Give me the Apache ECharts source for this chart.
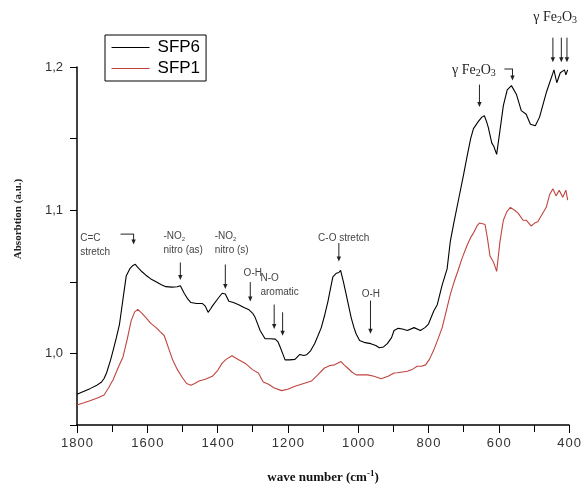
<!DOCTYPE html>
<html>
<head>
<meta charset="utf-8">
<script src="https://cdn.jsdelivr.net/npm/echarts@6/dist/echarts.min.js"></script>
<style>
  html, body { margin: 0; padding: 0; background: #fff; }
  #chart { width: 584px; height: 489px; }
</style>
</head>
<body>
<div id="chart"></div>
<script>
// SFP6 spectrum (wave number, absorbtion)
const sfp6Wave = [1800, 1780, 1763, 1745, 1730, 1723, 1716, 1705, 1697, 1688, 1679, 1668, 1660, 1650, 1641, 1634, 1627, 1615, 1604, 1590, 1575, 1560, 1547, 1530, 1515, 1506, 1495, 1485, 1476, 1460, 1443, 1435, 1427, 1420, 1415, 1400, 1387, 1378, 1368, 1355, 1340, 1325, 1312, 1300, 1293, 1279, 1265, 1250, 1236, 1228, 1222, 1215, 1208, 1195, 1180, 1166, 1155, 1147, 1135, 1124, 1115, 1105, 1095, 1086, 1079, 1072, 1062, 1055, 1050, 1042, 1034, 1027, 1020, 1012, 1006, 996, 980, 964, 950, 940, 928, 917, 905, 898, 886, 874, 860, 841, 823, 810, 800, 785, 775, 761, 747, 738, 728, 714, 700, 691, 680, 672, 658, 648, 641, 635, 630, 620, 614, 606, 597, 587, 576, 564, 550, 536, 522, 510, 496, 484, 465, 446, 443, 435, 425, 420, 413, 409, 404];
const sfp6Abs = [0.9715, 0.9735, 0.9754, 0.9775, 0.980, 0.9825, 0.9863, 0.995, 1.0023, 1.011, 1.0205, 1.040, 1.054, 1.059, 1.0614, 1.0622, 1.060, 1.057, 1.0546, 1.052, 1.050, 1.048, 1.0466, 1.0463, 1.0465, 1.0472, 1.042, 1.038, 1.0355, 1.0348, 1.0348, 1.033, 1.0287, 1.031, 1.033, 1.038, 1.042, 1.0415, 1.0364, 1.0355, 1.034, 1.032, 1.0307, 1.028, 1.025, 1.016, 1.0102, 1.0102, 1.010, 1.008, 1.0045, 1.000, 0.9955, 0.9955, 0.9958, 0.9993, 0.9985, 0.999, 1.002, 1.0068, 1.012, 1.018, 1.027, 1.0364, 1.045, 1.0535, 1.056, 1.0565, 1.058, 1.050, 1.041, 1.033, 1.025, 1.018, 1.0137, 1.009, 1.0075, 1.0068, 1.0055, 1.004, 1.0045, 1.0068, 1.011, 1.016, 1.0175, 1.017, 1.016, 1.018, 1.016, 1.018, 1.0205, 1.0296, 1.034, 1.0478, 1.059, 1.078, 1.091, 1.108, 1.125, 1.1365, 1.150, 1.157, 1.162, 1.165, 1.166, 1.162, 1.158, 1.147, 1.1445, 1.139, 1.155, 1.173, 1.184, 1.187, 1.181, 1.1695, 1.167, 1.160, 1.159, 1.165, 1.182, 1.1957, 1.198, 1.189, 1.196, 1.195, 1.198, 1.1945, 1.198];

// SFP1 spectrum
const sfp1Wave = [1800, 1780, 1763, 1740, 1723, 1710, 1697, 1683, 1669, 1657, 1646, 1636, 1627, 1615, 1604, 1590, 1575, 1563, 1552, 1540, 1528, 1515, 1500, 1488, 1476, 1465, 1453, 1435, 1415, 1400, 1387, 1375, 1359, 1350, 1340, 1321, 1300, 1284, 1270, 1255, 1240, 1218, 1200, 1180, 1155, 1133, 1115, 1096, 1080, 1067, 1049, 1040, 1030, 1018, 1006, 990, 973, 955, 935, 915, 898, 888, 874, 860, 845, 832, 820, 808, 797, 785, 773, 761, 750, 738, 727, 717, 705, 691, 680, 672, 662, 655, 646, 639, 632, 625, 615, 606, 597, 587, 577, 567, 555, 545, 531, 522, 508, 498, 489, 477, 465, 455, 446, 437, 428, 418, 409, 404];
const sfp1Abs = [0.964, 0.9655, 0.967, 0.969, 0.971, 0.976, 0.9818, 0.990, 0.9977, 1.010, 1.0227, 1.029, 1.0307, 1.028, 1.025, 1.021, 1.018, 1.015, 1.0125, 1.004, 0.9955, 0.989, 0.983, 0.979, 0.9777, 0.979, 0.9807, 0.982, 0.984, 0.988, 0.9932, 0.996, 0.9984, 0.997, 0.9955, 0.993, 0.9885, 0.9863, 0.980, 0.9784, 0.976, 0.974, 0.975, 0.977, 0.979, 0.9807, 0.985, 0.9898, 0.9915, 0.992, 0.9943, 0.992, 0.9898, 0.987, 0.985, 0.985, 0.985, 0.984, 0.9823, 0.984, 0.9863, 0.9865, 0.987, 0.9875, 0.989, 0.991, 0.991, 0.992, 0.996, 1.0023, 1.010, 1.018, 1.029, 1.041, 1.050, 1.057, 1.066, 1.075, 1.081, 1.084, 1.089, 1.091, 1.0905, 1.090, 1.080, 1.068, 1.0637, 1.0573, 1.0773, 1.093, 1.099, 1.102, 1.100, 1.098, 1.093, 1.093, 1.089, 1.091, 1.092, 1.097, 1.102, 1.111, 1.115, 1.110, 1.114, 1.109, 1.114, 1.107];

const seriesNames = ['SFP6', 'SFP1'];
const xTicks = [1800, 1600, 1400, 1200, 1000, 800, 600, 400];
const yTicks = [1.0, 1.1, 1.2];

// annotation texts: [label, wave number of top-left, absorbtion of top-left]
const noteLabels = [
  ['C=C\nstretch', 1791, 1.0855],
  ['-NO{sub|2}\nnitro (as)', 1554, 1.0870],
  ['-NO{sub|2}\nnitro (s)', 1408, 1.0870],
  ['O-H', 1326, 1.0608],
  ['N-O\naromatic', 1278, 1.0573],
  ['C-O stretch', 1114, 1.0855],
  ['O-H', 990, 1.0464]
];
const fe2o3Labels = [
  [733, 1.2030],
  [502, 1.2400]
];
// arrows: [wave, from, to]
const arrows = [
  [1639, 1.0833, 1.0760],
  [1506, 1.0635, 1.0512],
  [1378, 1.0621, 1.0450],
  [1307, 1.0498, 1.0362],
  [1239, 1.0341, 1.0171],
  [1215, 1.0287, 1.0123],
  [1055, 1.0771, 1.0642],
  [965, 1.0369, 1.0137],
  [655, 1.1877, 1.1720],
  [561, 1.1986, 1.1905],
  [446, 1.2205, 1.2034],
  [422, 1.2205, 1.2034],
  [406, 1.2205, 1.2034]
];
// bracket tops: [waveFrom, waveTo, absorbtion]
const brackets = [
  [1676, 1639, 1.0833],
  [584, 561, 1.1986]
];

const zip = (xs, ys) => xs.map((x, i) => [x, ys[i]]);
const sans = 'Arial, "Liberation Sans", sans-serif';
const serif = '"Liberation Serif", "Times New Roman", serif';

const chart = echarts.init(document.getElementById('chart'));
chart.setOption({
  animation: false,
  backgroundColor: '#fff',
  grid: { left: 77, right: 11, top: 67, bottom: 55 },
  legend: {
    data: seriesNames,
    orient: 'vertical',
    left: 105, top: 35,
    padding: [4, 6, 4, 6],
    borderColor: '#000', borderWidth: 1,
    itemWidth: 38, itemHeight: 14, itemGap: 4,
    itemStyle: { opacity: 0 },
    lineStyle: { width: 1.1 },
    textStyle: { fontFamily: sans, fontSize: 17, color: '#000', padding: [0, 0, 0, 3] }
  },
  xAxis: {
    type: 'value', inverse: true, min: 400, max: 1800, interval: 200,
    name: 'wave number (cm{sup|-1})',
    nameLocation: 'middle', nameGap: 44,
    nameTextStyle: {
      fontFamily: serif, fontWeight: 'bold', fontSize: 13, color: '#111',
      rich: { sup: { fontFamily: serif, fontWeight: 'bold', fontSize: 9, color: '#111', verticalAlign: 'top', padding: [0, 0, 8, 0] } }
    },
    axisLine: { lineStyle: { color: '#000', width: 1.5 } },
    axisTick: { inside: false, length: 8, lineStyle: { color: '#000' } },
    minorTick: { show: true, splitNumber: 2, length: 7, lineStyle: { color: '#000' } },
    axisLabel: {
      margin: 12, fontSize: 13, color: '#333', fontFamily: sans,
      formatter: v => xTicks.includes(v) ? String(v).split('').join('\u200A') : ''
    },
    splitLine: { show: false }
  },
  yAxis: {
    type: 'value', min: 0.95, max: 1.2, interval: 0.05,
    axisLine: { show: true, lineStyle: { color: '#000', width: 1.5 } },
    axisTick: { show: true, inside: false, length: 7, lineStyle: { color: '#000' } },
    axisLabel: {
      margin: 14, fontSize: 13, color: '#333', fontFamily: sans,
      formatter: v => {
        const t = yTicks.find(k => Math.abs(k - v) < 1e-6);
        return t === undefined ? '' : t.toFixed(1).replace('.', ',');
      }
    },
    splitLine: { show: false }
  },
  series: [
    {
      name: seriesNames[0], type: 'line', data: zip(sfp6Wave, sfp6Abs),
      symbol: 'none', clip: false, lineStyle: { color: '#000', width: 1.1 }, itemStyle: { color: '#000' }
    },
    {
      name: seriesNames[1], type: 'line', data: zip(sfp1Wave, sfp1Abs),
      symbol: 'none', clip: false, lineStyle: { color: '#c0443e', width: 1.1 }, itemStyle: { color: '#c0443e' }
    }
  ]
});

// annotations placed from data coordinates
const px = (w, a) => chart.convertToPixel({ gridIndex: 0 }, [w, a]);
const graphics = [{
  type: 'text', x: 18, y: 219, rotation: Math.PI / 2,
  style: {
    text: 'Absorbtion (a.u.)', textAlign: 'center', textVerticalAlign: 'middle',
    font: 'bold 11px ' + serif, fill: '#222'
  }
}];
const ink = '#222';
arrows.forEach(a => {
  const p0 = px(a[0], a[1]);
  const p1 = px(a[0], a[2]);
  graphics.push({ type: 'line', shape: { x1: p0[0], y1: p0[1], x2: p1[0], y2: p1[1] - 4 }, style: { stroke: ink, lineWidth: 1 } });
  graphics.push({ type: 'polygon', shape: { points: [[p1[0] - 2.2, p1[1] - 5], [p1[0] + 2.2, p1[1] - 5], [p1[0], p1[1]]] }, style: { fill: ink } });
});
brackets.forEach(b => {
  const p0 = px(b[0], b[2]);
  const p1 = px(b[1], b[2]);
  graphics.push({ type: 'line', shape: { x1: p0[0], y1: p0[1], x2: p1[0] + 0.5, y2: p1[1] }, style: { stroke: ink, lineWidth: 1 } });
});
noteLabels.forEach(n => {
  const p = px(n[1], n[2]);
  graphics.push({
    type: 'text', x: p[0], y: p[1],
    style: {
      text: n[0], fontFamily: sans, fontSize: 10, lineHeight: 14, fill: '#444',
      textAlign: 'left', textVerticalAlign: 'top',
      rich: { sub: { fontFamily: sans, fontSize: 6, fill: '#444', verticalAlign: 'bottom', lineHeight: 14, padding: [6, 0, 0, 0] } }
    }
  });
});
fe2o3Labels.forEach(f => {
  const p = px(f[0], f[1]);
  graphics.push({
    type: 'text', x: p[0], y: p[1],
    style: {
      text: 'γ Fe{sub|2}O{sub|3}', fontFamily: serif, fontSize: 14, lineHeight: 16, fill: '#222',
      textAlign: 'left', textVerticalAlign: 'top',
      rich: { sub: { fontFamily: serif, fontSize: 10, fill: '#222', verticalAlign: 'bottom', lineHeight: 16, padding: [5, 0, 0, 0] } }
    }
  });
});
chart.setOption({ graphic: graphics });
</script>
</body>
</html>
